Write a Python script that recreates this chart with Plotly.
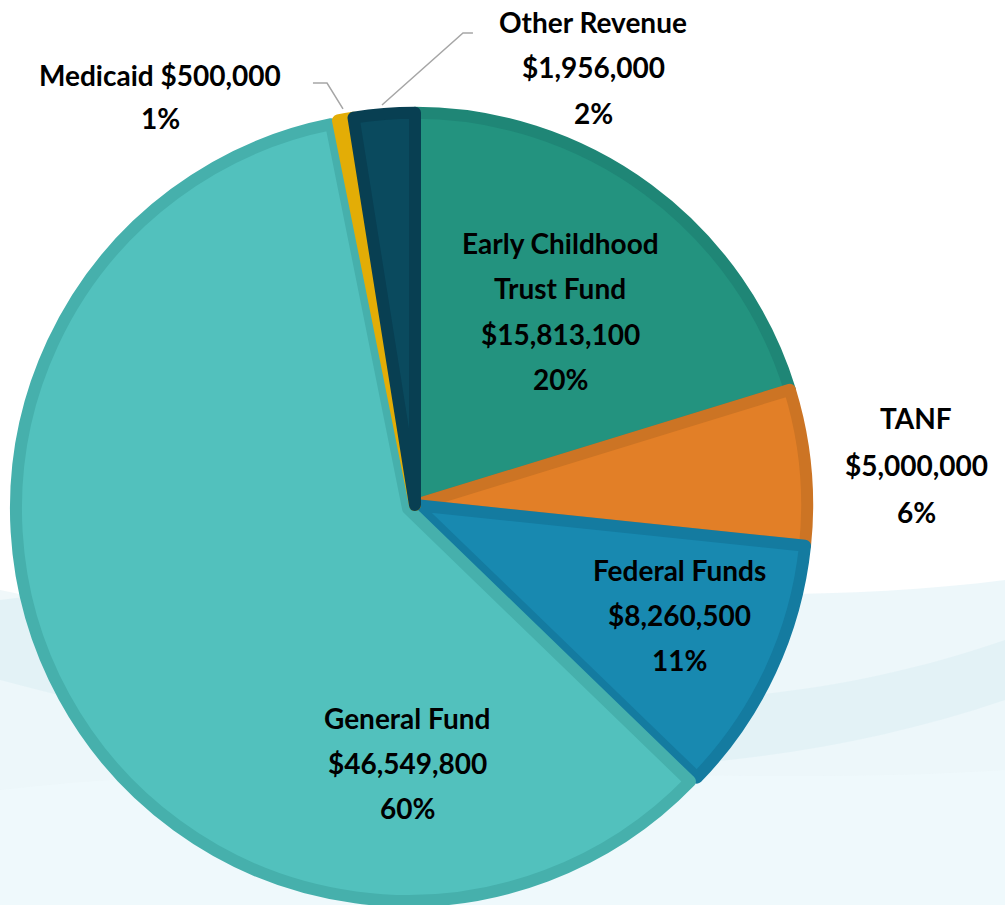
import plotly.graph_objects as go

# Revenue sources, clockwise from 12 o'clock
sources = ["Early Childhood Trust Fund", "TANF", "Federal Funds",
           "General Fund", "Medicaid", "Other Revenue"]
amounts = [15813100, 5000000, 8260500, 46549800, 500000, 1956000]
percent_labels = ["20%", "6%", "11%", "60%", "1%", "2%"]

# label lines as shown on the chart
label_lines = [
    ["Early Childhood", "Trust Fund", "$15,813,100", "20%"],
    ["TANF", "$5,000,000", "6%"],
    ["Federal Funds", "$8,260,500", "11%"],
    ["General Fund", "$46,549,800", "60%"],
    ["Medicaid $500,000", "1%"],
    ["Other Revenue", "$1,956,000", "2%"],
]

fill_colors = ["#23937F", "#E27F27", "#1889B0", "#52C1BD", "#E3AD06", "#0A4A5E"]
edge_colors = ["#1F8676", "#CC7424", "#147BA0", "#46B0AC", "#E3AD06", "#083F52"]

W, H = 1005, 905


def px(x, y):
    """pixel position -> paper coords"""
    return x / W, 1 - y / H


def path_from(cmds):
    # cmds: list of (letter, [(x, y), ...]) in pixels
    out = []
    for letter, pts in cmds:
        coords = " ".join(f"{x / W:.4f},{1 - y / H:.4f}" for x, y in pts)
        out.append(f"{letter}{coords}")
    return " ".join(out)


fig = go.Figure()

# faint wavy backdrop
waves = [
    ([("M", [(0, 905)]), ("L", [(0, 600)]), ("C", [(300, 560), (700, 620), (1005, 580)]),
      ("L", [(1005, 905)]), ("Z", [])], "rgba(222,240,245,0.55)"),
    ([("M", [(0, 590)]), ("C", [(250, 640), (600, 780), (1005, 640)]),
      ("L", [(1005, 700)]), ("C", [(650, 820), (300, 760), (0, 680)]), ("Z", [])],
     "rgba(205,232,238,0.30)"),
    ([("M", [(0, 790)]), ("C", [(350, 750), (700, 790), (1005, 770)]),
      ("L", [(1005, 905)]), ("L", [(0, 905)]), ("Z", [])], "rgba(240,249,252,0.7)"),
]
for cmds, col in waves:
    fig.add_shape(type="path", path=path_from(cmds), xref="paper", yref="paper",
                  fillcolor=col, line=dict(width=0), layer="below")

fig.add_trace(go.Pie(
    labels=sources,
    values=amounts,
    sort=False,
    direction="clockwise",
    rotation=0,
    pull=[0, 0, 0, 0.02, 0, 0],
    marker=dict(colors=fill_colors, line=dict(color=edge_colors, width=12)),
    textinfo="none",
    hoverinfo="label+value+percent",
    domain=dict(x=[15 / W, 815 / W], y=[0, 800 / H]),
    showlegend=False,
))

# label anchor (center x, first line y, line step) in pixels
label_pos = [
    (560, 243, 45.5),
    (916, 418, 47),
    (679, 570, 45),
    (407, 718, 45),
    (160, 75, 43),
    (593, 22, 45.5),
]

for lines, (cx, cy, step) in zip(label_lines, label_pos):
    for k, line in enumerate(lines):
        x, y = px(cx, cy + k * step)
        fig.add_annotation(text=f"<b>{line}</b>", x=x, y=y, xref="paper", yref="paper",
                           showarrow=False, xanchor="center", yanchor="middle",
                           font=dict(family="Lato", size=28, color="#000000"))

# leader lines for the two thin slices
leaders = [
    [(343, 109), (327, 83), (313, 83)],
    [(382, 105), (463, 33), (473, 33)],
]
for pts in leaders:
    cmds = [("M", [pts[0]])] + [("L", [p]) for p in pts[1:]]
    fig.add_shape(type="path", path=path_from(cmds),
                  xref="paper", yref="paper",
                  line=dict(color="#A6A6A6", width=1.5))

fig.update_layout(
    width=W, height=H,
    margin=dict(l=0, r=0, t=0, b=0),
    paper_bgcolor="white",
    plot_bgcolor="white",
    font=dict(family="Lato"),
)

fig.write_html("out.html", config={"displayModeBar": False},
               post_script="document.body.style.margin='0';"
                           "document.body.style.overflow='hidden';")
